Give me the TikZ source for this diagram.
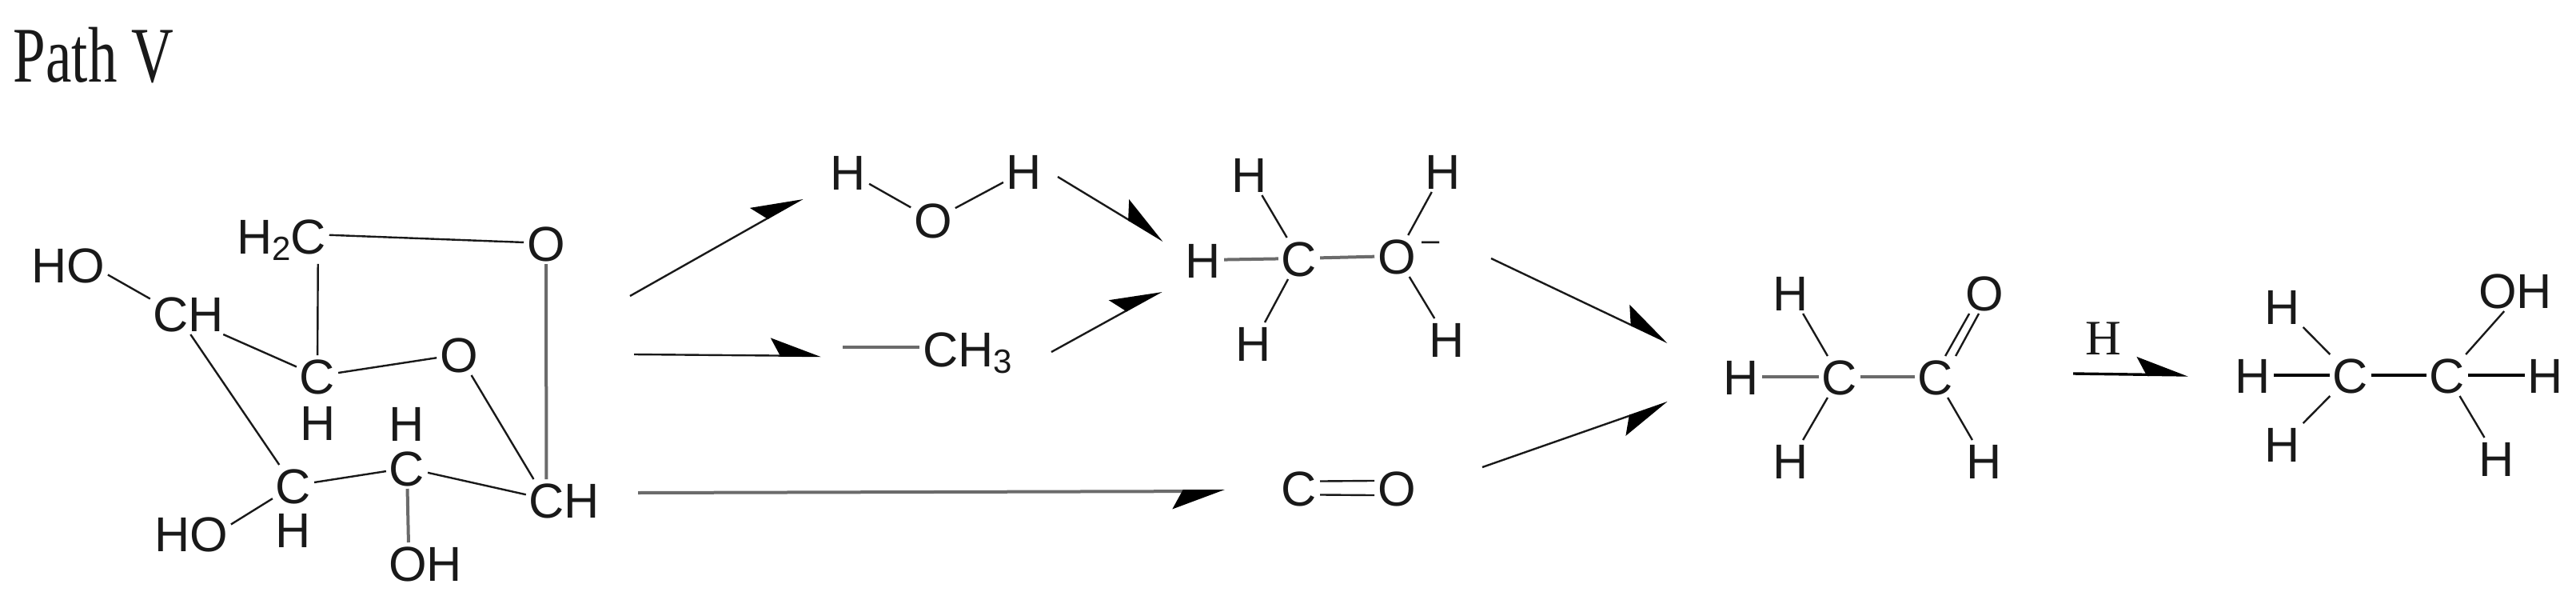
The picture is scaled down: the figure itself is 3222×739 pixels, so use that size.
\documentclass[tikz,border=0pt]{standalone}
\usepackage{graphicx}
\usepackage{fontspec}
\setmainfont{Liberation Sans}
\newfontfamily\timesf{Liberation Serif}
\usetikzlibrary{arrows.meta}
\definecolor{ink}{gray}{0.1}
\definecolor{midg}{gray}{0.42}
\tikzset{
  atom/.style={inner sep=1pt,outer sep=0pt,text=ink,font=\fontsize{15.3}{15.3}\selectfont},
  sing/.style={atom,text height=11pt,text depth=0pt},
  bond/.style={draw=ink,line width=0.6pt},
  gbond/.style={draw=midg,line width=1pt},
  kbond/.style={draw=black,line width=0.85pt},
  rxn/.style={draw=ink,line width=0.6pt,-{Stealth[harpoon,length=15pt,width=11pt,inset=3pt,color=black,fill=black]}},
  rxnr/.style={draw=ink,line width=0.6pt,-{Stealth[harpoon,swap,length=15pt,width=11pt,inset=3pt,color=black,fill=black]}},
}
\newcommand{\subsc}[1]{\raisebox{-2.2pt}{\fontsize{10.5}{10.5}\selectfont #1}}
\begin{document}
\begin{tikzpicture}[x=0.25pt,y=-0.25pt]
\useasboundingbox (0,0) rectangle (3222,739);
\node[anchor=base west,inner sep=0pt,font=\timesf\fontsize{18.25}{18.25}\selectfont,text=ink] (title) at (16,102) {\scalebox{1}[1.35]{Path V}};

% sugar
\node[sing] (ho1) at (85,331) {HO};
\node[sing] (ch1) at (236,392) {CH};
\node[atom,anchor=base west] (h2c) at (292,317) {H\subsc{2}C};
\node[sing] (o1) at (683,304) {O};
\node[sing] (c1) at (397,470) {C};
\node[sing] (h1) at (398,528) {H};
\node[sing] (o2) at (574,443) {O};
\node[sing] (h2) at (509,529) {H};
\node[sing] (c4) at (509,585) {C};
\node[sing] (c3) at (367,607) {C};
\node[sing] (h3) at (367,662) {H};
\node[sing] (ho2) at (239,667) {HO};
\node[sing] (oh1) at (532,704) {OH};
\node[sing] (ch2) at (706,625) {CH};
\draw[bond] (ho1.-14) -- (ch1.159);
\draw[bond] (ch1.-31) -- (c1);
\draw[bond] (ch1.-85) -- (c3);
\draw[bond] (h2c.6) -- (o1);
\draw[bond] (h2c.-33) -- (c1);
\draw[bond] (c1) -- (o2);
\draw[bond] (o2) -- (ch2.146);
\draw[gbond] (o1) -- (ch2.131);
\draw[bond] (c3) -- (c4);
\draw[bond] (c4) -- (ch2.172);
\draw[gbond] (c4) -- (oh1.129);
\draw[bond] (ho2.13) -- (c3);

% water
\node[sing] (wh1) at (1061,215) {H};
\node[sing] (wo) at (1167,275) {O};
\node[sing] (wh2) at (1281,214) {H};
\draw[bond] (wh1) -- (wo);
\draw[bond] (wo) -- (wh2);

% methyl
\coordinate (mfree) at (1054,434);
\node[atom,anchor=base west] (ch3) at (1150,458) {CH\subsc{3}};
\draw[gbond] (mfree) -- (mfree -| ch3.west);

% methoxide
\node[sing] (mh) at (1505,325) {H};
\node[sing] (mc) at (1625,323) {C};
\node[sing] (mo) at (1747,320) {O};
\node[atom,anchor=base,font=\fontsize{10}{10}\selectfont] (minus) at (1790,313) {–};
\node[sing] (mh1) at (1563,218) {H};
\node[sing] (mh2) at (1805,214) {H};
\node[sing] (mh3) at (1568,429) {H};
\node[sing] (mh4) at (1810,424) {H};
\draw[gbond] (mh) -- (mc);
\draw[gbond] (mc) -- (mo);
\draw[bond] (mc) -- (mh1);
\draw[bond] (mc) -- (mh3);
\draw[bond] (mo) -- (mh2);
\draw[bond] (mo) -- (mh4);

% CO
\node[sing] (cc) at (1625,610) {C};
\node[sing] (oc) at (1747,610) {O};
\draw[bond] (cc.18) -- (oc.162);
\draw[bond] (cc.-18) -- (oc.-162);

% acetaldehyde
\node[sing] (ah) at (2178,471) {H};
\node[sing] (ac1) at (2301,471) {C};
\node[sing] (ac2) at (2421,471) {C};
\node[sing] (aht) at (2240,366) {H};
\node[sing] (ahb) at (2240,576) {H};
\node[sing] (ao) at (2482,366) {O};
\node[sing] (ahr) at (2482,576) {H};
\draw[gbond] (ah) -- (ac1);
\draw[gbond] (ac1) -- (ac2);
\draw[bond] (ac1) -- (aht);
\draw[bond] (ac1) -- (ahb);
\draw[bond] (ac2) -- (ahr);
\draw[bond] (ac2.65) -- (ao.-126);
\draw[bond] (ac2.46) -- (ao.-105);

% ethanol
\node[sing] (eh) at (2818,469) {H};
\node[sing] (ec1) at (2940,469) {C};
\node[sing] (ec2) at (3061,469) {C};
\node[sing] (ehr) at (3184,469) {H};
\node[sing] (eht) at (2855,383) {H};
\node[sing] (ehb) at (2855,555) {H};
\node[sing] (eoh) at (3146,363) {OH};
\node[sing] (ehd) at (3123,573) {H};
\draw[kbond] (eh) -- (ec1);
\draw[kbond] (ec1) -- (ec2);
\draw[kbond] (ec2) -- (ehr);
\draw[bond] (ec1) -- (eht);
\draw[bond] (ec1) -- (ehb);
\draw[bond] (ec2) -- (eoh.-118);
\draw[bond] (ec2) -- (ehd);

% reaction arrows
\coordinate (a1s) at (788,370); \coordinate (a1e) at (1004,248);
\coordinate (a2s) at (793,443); \coordinate (a2e) at (1027,445);
\coordinate (a3s) at (798,616); \coordinate (a3e) at (1532,614);
\coordinate (a4s) at (1323,221); \coordinate (a4e) at (1455,301);
\coordinate (a5s) at (1315,440); \coordinate (a5e) at (1453,364);
\coordinate (a6s) at (1865,323); \coordinate (a6e) at (2086,428);
\coordinate (a7s) at (1854,584); \coordinate (a7e) at (2086,503);
\coordinate (a8s) at (2593,467); \coordinate (a8e) at (2737,469);
\draw[rxn] (a1s) -- (a1e);
\draw[rxn] (a2s) -- (a2e);
\draw[rxnr,draw=midg,line width=1pt] (a3s) -- (a3e);
\draw[rxn] (a4s) -- (a4e);
\draw[rxn] (a5s) -- (a5e);
\draw[rxn] (a6s) -- (a6e);
\draw[rxnr] (a7s) -- (a7e);
\draw[rxn,draw=black,line width=0.85pt] (a8s) -- (a8e);
\node[inner sep=0pt,font=\timesf\fontsize{15.5}{15.5}\selectfont,text=ink] (hl) at (2631,423) {H};
\end{tikzpicture}
\end{document}
